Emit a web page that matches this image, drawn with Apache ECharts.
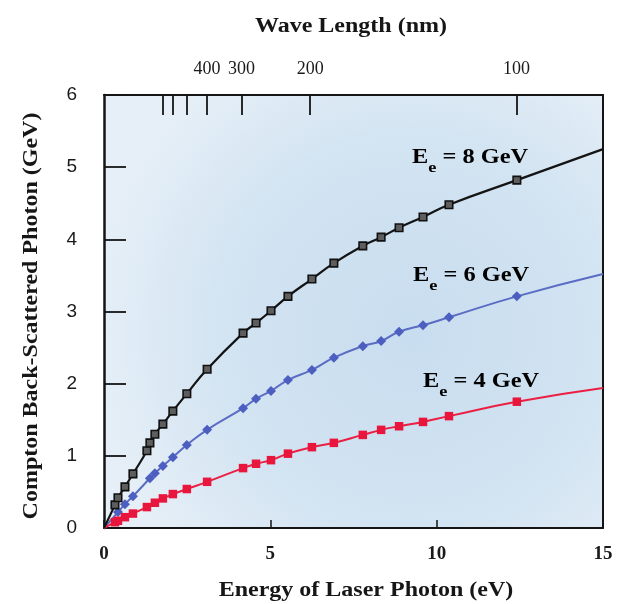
<!DOCTYPE html>
<html><head><meta charset="utf-8">
<script src="https://cdn.jsdelivr.net/npm/echarts@6/dist/echarts.min.js"></script>
<style>html,body{margin:0;padding:0;background:#fff}#c{width:619px;height:604px}</style>
</head><body><div id="c"></div>
<script>
// Laser photon energy (eV) and back-scattered photon energy (GeV)
const energy8 = [0.33,0.42,0.63,0.87,1.29,1.38,1.53,1.77,2.07,2.49,3.10,4.18,4.57,5.02,5.53,6.25,6.91,7.78,8.33,8.87,9.59,10.37,12.41];
const photon8 = [0.32,0.42,0.57,0.75,1.07,1.18,1.30,1.44,1.62,1.86,2.20,2.70,2.84,3.01,3.21,3.45,3.67,3.91,4.03,4.16,4.31,4.48,4.82];
const end8 = 5.25;
const energy6 = [0.42,0.63,0.87,1.38,1.53,1.77,2.07,2.49,3.10,4.18,4.57,5.02,5.53,6.25,6.91,7.78,8.33,8.87,9.59,10.37,12.41];
const photon6 = [0.22,0.33,0.44,0.69,0.76,0.86,0.98,1.15,1.36,1.66,1.79,1.90,2.05,2.19,2.36,2.52,2.59,2.72,2.81,2.92,3.21];
const end6 = 3.52;
const energy4 = [0.33,0.42,0.63,0.87,1.29,1.53,1.77,2.07,2.49,3.10,4.18,4.57,5.02,5.53,6.25,6.91,7.78,8.33,8.87,9.59,10.37,12.41];
const photon4 = [0.08,0.10,0.15,0.20,0.29,0.35,0.41,0.47,0.54,0.64,0.83,0.89,0.94,1.03,1.12,1.18,1.29,1.36,1.41,1.47,1.55,1.75];
const end4 = 1.94;
const curveNames = ['8 GeV','6 GeV','4 GeV'];
const wavelengthTicks = [700,600,500,400,300,200,100];
const wavelengthLabels = [400,300,200,100];
const xMin = 0, xMax = 15, xStep = 5;
const yMin = 0, yMax = 6, yStep = 1;
const HC = 1239.84; // eV*nm

function curve(E, V, endV) {
  const d = [{value:[xMin, 0], symbol:'none'}];
  E.forEach((e,i) => d.push([e, V[i]]));
  d.push({value:[xMax, endV], symbol:'none'});
  return d;
}

const serif = 'Liberation Serif';
const chart = echarts.init(document.getElementById('c'), null, {renderer:'canvas'});
const labelRich = {
  a:{fontSize:20, fontFamily:serif, fontWeight:'bold', color:'#161616', lineHeight:22, verticalAlign:'top'},
  b:{fontSize:15, fontFamily:serif, fontWeight:'bold', color:'#161616', lineHeight:28, verticalAlign:'bottom'}
};
function curveLabel(name, x, y) {
  return {type:'text', x:x, y:y, scaleX:1.22, z:50,
    style:{text:'{a|E}{b|e}{a| = ' + name + '}', rich:labelRich, align:'left', verticalAlign:'top'}};
}
function title(text, x, y, rot) {
  return {type:'text', x:x, y:y, rotation:rot||0, scaleX:1.2, z:50,
    style:{text:text, font:'bold 20px "Liberation Serif"', fill:'#161616', align:'center', verticalAlign:'middle'}};
}

chart.setOption({
  animation:false,
  backgroundColor:'#ffffff',
  grid:{left:104, right:16, top:95, bottom:76, show:true, borderWidth:0,
    backgroundColor:{type:'radial', x:0.62, y:0.55, r:0.75,
      colorStops:[{offset:0,color:'#c8ddef'},{offset:0.6,color:'#d3e4f2'},{offset:1,color:'#e6eff7'}]}},
  xAxis:[{
    type:'value', min:xMin, max:xMax, interval:xStep, position:'bottom',
    axisLine:{show:true, onZero:false, lineStyle:{color:'#151515', width:2}},
    axisTick:{show:true, inside:true, length:8, lineStyle:{color:'#151515', width:1.5}},
    axisLabel:{margin:17, fontFamily:serif, fontWeight:'bold', fontSize:19, color:'#1a1a1a'},
    splitLine:{show:false}
  },{
    type:'value', min:xMin, max:xMax, position:'top',
    axisLine:{show:true, onZero:false, lineStyle:{color:'#151515', width:2}},
    axisTick:{show:true, inside:true, length:20, customValues:wavelengthTicks.map(l => HC/l), lineStyle:{color:'#151515', width:1.8}},
    axisLabel:{show:true, margin:17, customValues:wavelengthLabels.map(l => HC/l),
      formatter:v => String(Math.round(HC/v/10)*10), fontFamily:serif, fontSize:18, color:'#1a1a1a'},
    splitLine:{show:false}
  }],
  yAxis:[{
    type:'value', min:yMin, max:yMax, interval:yStep, position:'left',
    axisLine:{show:true, onZero:false, lineStyle:{color:'#151515', width:2.5}},
    axisTick:{show:true, inside:true, length:22, lineStyle:{color:'#151515', width:1.8}},
    axisLabel:{margin:27, fontFamily:'Liberation Sans', fontSize:19, color:'#1a1a1a'},
    splitLine:{show:false}
  },{
    type:'value', min:yMin, max:yMax, interval:yStep, position:'right',
    axisLine:{show:true, onZero:false, lineStyle:{color:'#151515', width:2}},
    axisTick:{show:false}, axisLabel:{show:false}, splitLine:{show:false}
  }],
  series:[
    {name:curveNames[0], type:'line', data:curve(energy8, photon8, end8), smooth:0.5,
      lineStyle:{color:'#141414', width:2.2}, symbol:'rect', symbolSize:7.5,
      itemStyle:{color:'#5e5e5e', borderColor:'#111', borderWidth:1.6}, z:3},
    {name:curveNames[1], type:'line', data:curve(energy6, photon6, end6), smooth:0.5,
      lineStyle:{color:'#5a6cc4', width:2}, symbol:'diamond', symbolSize:10,
      itemStyle:{color:'#4c5fc0', borderWidth:0}, z:2},
    {name:curveNames[2], type:'line', data:curve(energy4, photon4, end4), smooth:0.5,
      lineStyle:{color:'#ea1f43', width:2}, symbol:'rect', symbolSize:8.5,
      itemStyle:{color:'#e8163d', borderWidth:0}, z:2}
  ],
  graphic:[
    title('Wave Length (nm)', 351, 27),
    title('Energy of Laser Photon (eV)', 366, 591),
    title('Compton Back-Scattered Photon (GeV)', 32, 316, Math.PI/2),
    curveLabel(curveNames[0], 412, 148),
    curveLabel(curveNames[1], 413, 266),
    curveLabel(curveNames[2], 423, 372)
  ]
});
</script></body></html>
